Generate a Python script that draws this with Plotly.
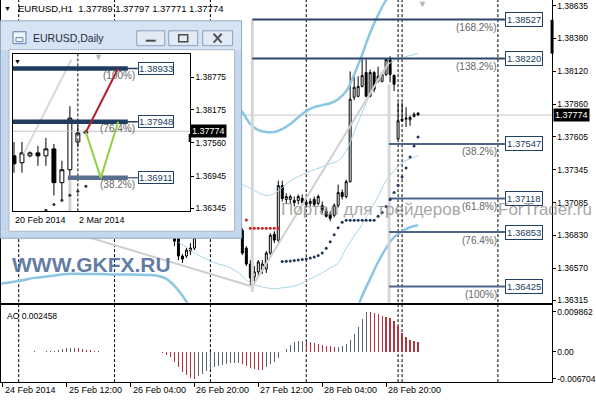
import plotly.graph_objects as go

W, H = 596, 400
FONT = "Liberation Sans, Arial, sans-serif"


def px(x):
    return x / W


def py(y):
    return 1 - y / H


# ---------------- EURUSD H1 candles (bar index 0 = 25 Feb 00:00) ----------------
H1_FIRST = 39
H1_OPEN = [1.36836, 1.36821, 1.36665, 1.36665, 1.36704, 1.36727, 1.36810, 1.36880, 1.36925, 1.36960,
           1.36945, 1.36970, 1.37000, 1.36985, 1.37010, 1.37035, 1.37020, 1.36868, 1.36727, 1.36602,
           1.36500, 1.36540, 1.36555, 1.36563, 1.36688, 1.36836, 1.36790, 1.37219, 1.37110, 1.37110,
           1.37102, 1.37102, 1.37118, 1.37071, 1.37079, 1.37110, 1.37079, 1.37063, 1.37016, 1.36993,
           1.36985, 1.37063, 1.37164, 1.37133, 1.37250, 1.37914, 1.37922, 1.38000, 1.38109, 1.37922,
           1.38109, 1.38039, 1.38039, 1.38094, 1.38211, 1.38086, 1.37586, 1.37729, 1.37742, 1.37737,
           1.37763, 1.37789]
H1_HIGH = [1.36868, 1.36844, 1.36680, 1.36727, 1.36766, 1.36829, 1.36905, 1.36950, 1.36990, 1.37010,
           1.36985, 1.37020, 1.37040, 1.37030, 1.37060, 1.37080, 1.37045, 1.36883, 1.36743, 1.36633,
           1.36586, 1.36633, 1.36633, 1.36704, 1.36844, 1.36860, 1.37258, 1.37258, 1.37157, 1.37149,
           1.37133, 1.37149, 1.37149, 1.37110, 1.37118, 1.37133, 1.37149, 1.37094, 1.37047, 1.37016,
           1.37079, 1.37227, 1.37188, 1.37266, 1.38117, 1.38080, 1.38080, 1.38211, 1.38211, 1.38133,
           1.38120, 1.38156, 1.38109, 1.38224, 1.38237, 1.38094, 1.37873, 1.37873, 1.37836, 1.37768,
           1.37795, 1.37797]
H1_LOW = [1.36743, 1.36633, 1.36610, 1.36649, 1.36672, 1.36711, 1.36805, 1.36860, 1.36900, 1.36930,
          1.36910, 1.36950, 1.36965, 1.36950, 1.36990, 1.36990, 1.36900, 1.36672, 1.36586, 1.36425,
          1.36461, 1.36508, 1.36524, 1.36532, 1.36672, 1.36766, 1.36774, 1.37094, 1.37079, 1.37079,
          1.37055, 1.37071, 1.37063, 1.37047, 1.37055, 1.37055, 1.37063, 1.37000, 1.36969, 1.36938,
          1.36969, 1.37047, 1.37110, 1.37118, 1.37243, 1.37891, 1.37914, 1.37992, 1.37914, 1.37914,
          1.37953, 1.38031, 1.38031, 1.38080, 1.38031, 1.37963, 1.37578, 1.37719, 1.37680, 1.37690,
          1.37756, 1.37771]
H1_CLOSE = [1.36782, 1.36665, 1.36641, 1.36711, 1.36727, 1.36810, 1.36880, 1.36925, 1.36960, 1.36945,
            1.36970, 1.37000, 1.36985, 1.37010, 1.37035, 1.37020, 1.36920, 1.36688, 1.36602, 1.36493,
            1.36540, 1.36618, 1.36602, 1.36688, 1.36829, 1.36790, 1.37219, 1.37118, 1.37133, 1.37133,
            1.37086, 1.37133, 1.37086, 1.37086, 1.37094, 1.37071, 1.37133, 1.37024, 1.36977, 1.36961,
            1.37063, 1.37164, 1.37133, 1.37250, 1.37899, 1.37992, 1.38000, 1.38086, 1.37922, 1.38109,
            1.37977, 1.38078, 1.38094, 1.38211, 1.38094, 1.38016, 1.37729, 1.37742, 1.37750, 1.37756,
            1.37781, 1.37774]
H1_BARS = list(range(H1_FIRST, H1_FIRST + len(H1_OPEN)))

# Parabolic SAR
SAR_DOWN_BARS = list(range(57, 66))
SAR_DOWN = [1.36948, 1.36883, 1.36883, 1.36883, 1.36883, 1.36883, 1.36883, 1.36883, 1.36883]
SAR_UP_BARS = list(range(66, 101))
SAR_UP = [1.36622, 1.36623, 1.36626, 1.36630, 1.36634, 1.36638, 1.36641, 1.36649, 1.36657, 1.36669,
          1.36688, 1.36727, 1.36778, 1.36833, 1.36887, 1.36930, 1.36946, 1.36946, 1.36946, 1.36946,
          1.36946, 1.36946, 1.36946, 1.36946, 1.36977, 1.37008, 1.37055, 1.37110, 1.37164, 1.37221,
          1.37287, 1.37357, 1.37444, 1.37531, 1.37602]

# Bollinger bands (sampled every other bar)
BB_WIDE_UP_BARS = [54, 56, 58, 60, 62, 64, 66, 68, 70, 72, 74, 76, 78, 80, 82, 84, 86, 88, 90, 92, 94]
BB_WIDE_UP = [1.37859, 1.37797, 1.37703, 1.37656, 1.37641, 1.37641, 1.37664, 1.37703, 1.37757, 1.37805,
              1.37836, 1.37852, 1.37867, 1.37899, 1.37961, 1.38094, 1.38250, 1.38422, 1.38562, 1.38680,
              1.38773]
BB_WIDE_LO_BARS = [-5, 0, 4, 8, 12, 16, 20, 24, 28, 32, 35, 37, 39, 41, 43, 46, 50, 56, 62, 68, 74, 78,
                   82, 84, 86, 88, 90, 92, 94, 96, 98, 100]
BB_WIDE_LO = [1.36446, 1.36469, 1.36493, 1.36508, 1.36524, 1.36524, 1.36524, 1.36520, 1.36520, 1.36516,
              1.36508, 1.36485, 1.36430, 1.36352, 1.36258, 1.36141, 1.36024, 1.35946, 1.35907, 1.35907,
              1.35946, 1.36024, 1.36141, 1.36196, 1.36352, 1.36485, 1.36618, 1.36727, 1.36813, 1.36860,
              1.36891, 1.36907]
BB_THIN_UP_BARS = [54, 56, 58, 60, 62, 64, 66, 68, 70, 72, 74, 76, 78, 80, 82, 84, 86, 88, 90, 92, 94,
                   96, 98, 100]
BB_THIN_UP = [1.37250, 1.37227, 1.37196, 1.37164, 1.37141, 1.37157, 1.37203, 1.37258, 1.37289, 1.37320,
              1.37344, 1.37367, 1.37391, 1.37414, 1.37492, 1.37641, 1.37797, 1.37938, 1.38063, 1.38156,
              1.38203, 1.38226, 1.38242, 1.38258]
BB_THIN_LO_BARS = [40, 42, 44, 46, 48, 50, 52, 54, 56, 58, 60, 62, 64, 66, 68, 70, 72, 74, 76, 78, 80,
                   82, 84, 86, 88, 90, 92, 94, 96, 98, 100]
BB_THIN_LO = [1.36774, 1.36735, 1.36688, 1.36657, 1.36625, 1.36602, 1.36586, 1.36555, 1.36508, 1.36454,
              1.36430, 1.36415, 1.36407, 1.36415, 1.36423, 1.36438, 1.36469, 1.36500, 1.36532, 1.36571,
              1.36610, 1.36727, 1.36821, 1.36914, 1.37024, 1.37133, 1.37258, 1.37336, 1.37399, 1.37430,
              1.37454]

# Fibonacci expansion objects
FIB_LEVELS = [1.38527, 1.38220, 1.37547, 1.37118, 1.36853, 1.36425]
FIB_PCT = ["(168.2%)", "(138.2%)", "(38.2%)", "(61.8%)", "(76.4%)", "(100%)"]
FIB_START = [58.5, 58.5, 92.75, 92.75, 92.75, 92.75]
FIB_END = 121.75
FIB_COLORS = ["#2c4668", "#2c4668", "#4d6586", "#4d6586", "#4d6586", "#4d6586"]
TREND_AB_BARS = [-4.44, 58.5]
TREND_AB = [1.37019, 1.36425]
TREND_BC_BARS = [58.5, 92.75]
TREND_BC = [1.36425, 1.38190]
VLINE_BARS = [58.5, 92.75]
VLINE_TOP = [1.38523, 1.38016]
VLINE_BOTTOM = [1.36381, 1.36290]

BID = 1.37774
SEPARATORS = [0, 24, 48, 72, 95, 96, 120]

MAIN_TICKS = [1.38635, 1.38380, 1.38120, 1.37860, 1.37605, 1.37345, 1.37085, 1.36830, 1.36570, 1.36315]

# Awesome Oscillator, bars -4 .. 100
AO_FIRST = -4
AO = [0.00003, 0.00005, 0.00002, -0.00002, 0.00003, 0.00004, 0.00005, 0.00004, 0.00006, 0.00005,
      0.00004, 0.00006, 0.00008, 0.00015, 0.00040, 0.00067, 0.00084, 0.00090, 0.00100, 0.00090,
      0.00067, 0.00050, 0.00034, 0.00018, 0.00010, 0.00005, 0.00003, 0.00002, 0.00001, -0.00002,
      0.00002, -0.00003, 0.00001, -0.00002, 0.00002, -0.00001, 0.00003, -0.00002, -0.00008, -0.00015,
      -0.00040, -0.00080, -0.00140, -0.00260, -0.00380, -0.00500, -0.00580, -0.00640, -0.006704, -0.00606,
      -0.00548, -0.00482, -0.00425, -0.00384, -0.00359, -0.00327, -0.00310, -0.00286, -0.00277, -0.00273,
      -0.00302, -0.00343, -0.00400, -0.00425, -0.00450, -0.00452, -0.00384, -0.00302, -0.00245, -0.00162,
      -0.00005, 0.00067, 0.00166, 0.00231, 0.00256, 0.00272, 0.00248, 0.00231, 0.00215, 0.00190,
      0.00174, 0.00149, 0.00133, 0.00117, 0.00125, 0.00149, 0.00190, 0.00297, 0.00437, 0.00625,
      0.00822, 0.009862, 0.00978, 0.00962, 0.00930, 0.00880, 0.00855, 0.00838, 0.00756, 0.00633,
      0.00468, 0.00362, 0.00280, 0.00263, 0.002458]
AO_BARS = list(range(AO_FIRST, AO_FIRST + len(AO)))
AO_TICKS = [0.009862, 0.0, -0.006704]
AO_TICK_TEXT = ["0.009862", "0.00", "-0.006704"]

DATE_BARS = [-4, 12, 28, 44, 60, 76, 92]
DATE_TEXT = ["24 Feb 2014", "25 Feb 12:00", "26 Feb 04:00", "26 Feb 20:00",
             "27 Feb 12:00", "28 Feb 04:00", "28 Feb 20:00"]

# ---------------- EURUSD Daily inset (bar 1 = 20 Feb) ----------------
D_BARS = [1, 2, 3, 4, 5, 6, 7, 8, 9, 10]
D_OPEN = [1.37318, 1.37190, 1.37318, 1.37373, 1.37318, 1.37447, 1.36822, 1.37061, 1.37575, 1.37741]
D_HIGH = [1.37575, 1.37575, 1.37400, 1.37502, 1.37649, 1.37539, 1.37226, 1.38237, 1.37888, 1.37796]
D_LOW = [1.37006, 1.37006, 1.37290, 1.37135, 1.37135, 1.36584, 1.36473, 1.36896, 1.37484, 1.37722]
D_CLOSE = [1.37171, 1.37373, 1.37373, 1.37318, 1.37447, 1.36822, 1.37061, 1.38016, 1.37741, 1.37774]
D_SAR_BARS = [5, 6, 7, 8, 9, 10]
D_SAR = [1.36313, 1.36418, 1.36497, 1.36589, 1.36662, 1.36754]
D_TICKS = [1.38775, 1.38175, 1.37560, 1.36945, 1.36345]
D_FIB_LEVELS = [1.38933, 1.37948, 1.36911]
D_FIB_PCT = ["(100%)", "(76.4%)", "(38.2%)"]
D_FIB_START = [0.875, 0.875, 7.75]
D_FIB_END = 15.25
D_FIB_LABEL = 16.5
D_FIB_COLORS = ["#1f3b5e", "#1f3b5e", "#5a6e8e"]
D_UP_BARS = [10, 14.04]
D_UP = [1.37754, 1.38933]
D_ZIG_BARS = [10, 11.875, 14.04]
D_ZIG = [1.37754, 1.36911, 1.37948]
D_TREND_BARS = [2.2, 8.2]
D_TREND = [1.37355, 1.39100]
D_VLINE_BAR = 8
D_VLINE = [1.36896, 1.36290]
D_SEPARATOR = 9
D_DATE_BARS = [1, 9]
D_DATE_TEXT = ["20 Feb 2014", "2 Mar 2014"]

# ---------------- geometry ----------------
X_RANGE = [-4.4375, 133.4375]
X_DOM = [px(1), px(552.5)]
MAIN_Y_RANGE = [1.362975, 1.386795]
AO_Y_RANGE = [-0.007532, 0.011668]
INSET_X_RANGE = [0.875, 23.0]
INSET_Y_RANGE = [1.36290, 1.39210]


def line(xs, ys, color, width, xa="x", ya="y", dash=None, shape="linear"):
    return go.Scatter(x=xs, y=ys, mode="lines", xaxis=xa, yaxis=ya, hoverinfo="skip",
                      showlegend=False, line=dict(color=color, width=width, dash=dash, shape=shape))


fig = go.Figure()

# --- main chart ---
fig.add_trace(line(BB_WIDE_UP_BARS, BB_WIDE_UP, "#8cc6e3", 2.5, shape="spline"))
fig.add_trace(line(BB_WIDE_LO_BARS, BB_WIDE_LO, "#8cc6e3", 2.5, shape="spline"))
fig.add_trace(line(BB_THIN_UP_BARS, BB_THIN_UP, "#a8d5ea", 1, shape="spline"))
fig.add_trace(line(BB_THIN_LO_BARS, BB_THIN_LO, "#a8d5ea", 1, shape="spline"))
fig.add_trace(line(TREND_AB_BARS, TREND_AB, "#cfcfcf", 2))
fig.add_trace(line(TREND_BC_BARS, TREND_BC, "#cfcfcf", 2))
for b, t, bo in zip(VLINE_BARS, VLINE_TOP, VLINE_BOTTOM):
    fig.add_trace(line([b, b], [t, bo], "#d6d6d6", 3))
for lvl, s, c in zip(FIB_LEVELS, FIB_START, FIB_COLORS):
    fig.add_trace(line([s, FIB_END], [lvl, lvl], c, 2))

fig.add_trace(go.Candlestick(
    x=H1_BARS, open=H1_OPEN, high=H1_HIGH, low=H1_LOW, close=H1_CLOSE,
    xaxis="x", yaxis="y", whiskerwidth=0, hoverinfo="skip", showlegend=False,
    increasing=dict(line=dict(color="black", width=1), fillcolor="white"),
    decreasing=dict(line=dict(color="black", width=1), fillcolor="black")))

fig.add_trace(go.Scatter(x=SAR_DOWN_BARS, y=SAR_DOWN, mode="markers", xaxis="x", yaxis="y",
                         marker=dict(color="#d42020", size=3), hoverinfo="skip", showlegend=False))
fig.add_trace(go.Scatter(x=SAR_UP_BARS, y=SAR_UP, mode="markers", xaxis="x", yaxis="y",
                         marker=dict(color="#1f3656", size=3), hoverinfo="skip", showlegend=False))

# --- AO ---
ao_colors = []
for k, v in enumerate(AO):
    if k == 0 or v > AO[k - 1]:
        ao_colors.append("#5b6472")
    else:
        ao_colors.append("#b3343f")
fig.add_trace(go.Bar(x=AO_BARS, y=AO, xaxis="x2", yaxis="y2", width=0.3,
                     marker=dict(color=ao_colors, line=dict(width=0)),
                     hoverinfo="skip", showlegend=False))

# --- window content background (cover subplot) ---
fig.add_trace(go.Scatter(x=[0.5], y=[0.5], mode="markers", xaxis="x3", yaxis="y3",
                         marker=dict(opacity=0), hoverinfo="skip", showlegend=False))

# --- daily inset ---
fig.add_trace(line(INSET_X_RANGE, [BID, BID], "#c4c4c4", 1, xa="x4", ya="y4"))
fig.add_trace(line(D_TREND_BARS, D_TREND, "#d8d8d8", 2, xa="x4", ya="y4"))
fig.add_trace(line([D_VLINE_BAR, D_VLINE_BAR], D_VLINE, "#d2d2d2", 3, xa="x4", ya="y4"))
fig.add_trace(line([D_SEPARATOR, D_SEPARATOR], INSET_Y_RANGE, "black", 1, xa="x4", ya="y4",
                   dash="3px,2px"))
for lvl, s, c in zip(D_FIB_LEVELS, D_FIB_START, D_FIB_COLORS):
    fig.add_trace(line([s, D_FIB_LABEL], [lvl, lvl], c, 1.5, xa="x4", ya="y4"))
    fig.add_trace(line([s, D_FIB_END], [lvl, lvl], c, 4.5, xa="x4", ya="y4"))
fig.add_trace(line(D_UP_BARS, D_UP, "#b0202a", 2, xa="x4", ya="y4"))
fig.add_trace(line(D_ZIG_BARS, D_ZIG, "#8fd140", 2, xa="x4", ya="y4"))
fig.add_trace(go.Candlestick(
    x=D_BARS, open=D_OPEN, high=D_HIGH, low=D_LOW, close=D_CLOSE,
    xaxis="x4", yaxis="y4", whiskerwidth=0, hoverinfo="skip", showlegend=False,
    increasing=dict(line=dict(color="black", width=1), fillcolor="white"),
    decreasing=dict(line=dict(color="black", width=1), fillcolor="black")))
fig.add_trace(go.Scatter(x=D_SAR_BARS, y=D_SAR, mode="markers", xaxis="x4", yaxis="y4",
                         marker=dict(color="#333333", size=3), hoverinfo="skip", showlegend=False))

# ---------------- shapes ----------------
shapes = []
for b in SEPARATORS:
    shapes.append(dict(type="line", xref="x", yref="paper", x0=b, x1=b, y0=py(385), y1=1,
                       line=dict(color="black", width=1, dash="3px,2px"), layer="below"))
shapes.append(dict(type="line", xref="paper", yref="y", x0=X_DOM[0], x1=X_DOM[1], y0=BID, y1=BID,
                   line=dict(color="#c4c4c4", width=1), layer="below"))
shapes.append(dict(type="rect", xref="paper", yref="paper", x0=px(551.5), x1=px(554.5),
                   y0=py(54), y1=py(20), fillcolor="black", line=dict(width=0), layer="above"))

FRAME = "#c5d7ec"
TITLE = "#d6e3f2"
EDGE = "#8ea9c9"


def rect(x0, y0, x1, y1, fill, lc=None, lw=0):
    return dict(type="rect", xref="paper", yref="paper", x0=px(x0), x1=px(x1), y0=py(y1), y1=py(y0),
                fillcolor=fill, line=dict(color=lc or fill, width=lw), layer="above")


shapes.append(rect(0, 21, 242, 50, TITLE))
shapes.append(rect(0, 50, 9, 233, FRAME))
shapes.append(rect(235, 50, 242, 233, FRAME))
shapes.append(rect(0, 233, 242, 240, FRAME))
shapes.append(dict(type="rect", xref="paper", yref="paper", x0=px(0.5), x1=px(242), y0=py(240),
                   y1=py(21), line=dict(color=EDGE, width=1), layer="above"))
shapes.append(dict(type="rect", xref="paper", yref="paper", x0=px(9), x1=px(235), y0=py(233),
                   y1=py(50), line=dict(color="#a9b9cc", width=1), layer="above"))
shapes.append(rect(13, 32, 26, 44, "#eef4fb", "#5b7fae", 1))
shapes.append(rect(16, 38, 23, 42, "#ffffff", "#5b7fae", 1))
for bx0, bx1 in [(137, 165), (169, 198), (203, 233)]:
    shapes.append(rect(bx0, 31, bx1, 46, "#e2eaf5", "#8aa2c2", 1))
shapes.append(rect(146, 40, 156, 42, "#4a4a4a"))
shapes.append(rect(179, 35, 188, 42, "rgba(0,0,0,0)", "#4a4a4a", 1.5))
shapes.append(dict(type="line", xref="paper", yref="paper", x0=px(214), x1=px(222), y0=py(34),
                   y1=py(43), line=dict(color="#555555", width=2), layer="above"))
shapes.append(dict(type="line", xref="paper", yref="paper", x0=px(214), x1=px(222), y0=py(43),
                   y1=py(34), line=dict(color="#555555", width=2), layer="above"))
shapes.append(rect(189, 135, 191.5, 143, "black"))

# ---------------- annotations ----------------
ann = []


def text(x, y, t, size=9, color="black", xanchor="left", xref="paper", yref="paper",
         yshift=0, xshift=0, **kw):
    ann.append(dict(x=x, y=y, xref=xref, yref=yref, text=t, showarrow=False, xanchor=xanchor,
                    yanchor="middle", yshift=yshift, xshift=xshift,
                    font=dict(family=FONT, size=size, color=color), **kw))


text(px(2), py(9), "▼", size=7)
text(px(16), py(9), "EURUSD,H1  1.37789 1.37797 1.37771 1.37774", size=9.5)
text(px(423), py(4), "▼", size=9, color="#b4b4b4", xanchor="center")

for lvl, pct in zip(FIB_LEVELS, FIB_PCT):
    text(FIB_END, lvl, "%.5f" % lvl, size=9.5, color="#22405f", xref="x", yref="y",
         bordercolor="#22405f", borderwidth=1, borderpad=1, bgcolor="white")
    text(FIB_END - 1.6, lvl, pct, size=10, color="#666666", xanchor="right", xref="x", yref="y",
         yshift=-8)

text(px(553.5), BID, "%.5f" % BID, size=9, color="white", yref="y", bgcolor="black", borderpad=1)

text(px(372), py(211), "Портал для трейдеров", size=17, color="rgba(135,135,135,0.75)",
     xanchor="center")
text(px(497), py(211), "ForTrader.ru", size=17, color="rgba(135,135,135,0.75)")
ann.append(dict(x=px(92), y=py(266), xref="paper", yref="paper", text="<b>WWW.GKFX.RU</b>",
                showarrow=False, xanchor="center", yanchor="middle",
                font=dict(family=FONT, size=21, color="rgba(70,100,150,0.85)")))

text(px(5), py(318), "AO 0.002458", size=8.5)
for b, t in zip(DATE_BARS, DATE_TEXT):
    text(b, py(393), t, size=9, xref="x2")

text(px(31), py(38), "EURUSD,Daily", size=10.5, color="#1f2d3d")
text(px(18), py(62), "▼", size=7, xanchor="center")
text(px(99), py(57), "▼", size=9, color="#b4b4b4", xanchor="center")
for lvl, pct in zip(D_FIB_LEVELS, D_FIB_PCT):
    text(D_FIB_LABEL, lvl, "%.5f" % lvl, size=9.5, color="#22405f", xref="x4", yref="y4",
         bordercolor="#22405f", borderwidth=1, borderpad=0, bgcolor="white")
    text(D_FIB_LABEL - 0.15, lvl, pct, size=10, color="#666666", xanchor="right", xref="x4",
         yref="y4", yshift=-7)
text(px(190), BID, "%.5f" % BID, size=9, color="white", yref="y4", bgcolor="black", borderpad=1)
for b, t in zip(D_DATE_BARS, D_DATE_TEXT):
    text(b, py(222), t, size=9, xref="x4", xshift=-1)

axis_font = dict(family=FONT, size=8.5, color="black")
common_x = dict(showgrid=False, zeroline=False)
fig.update_layout(
    width=W, height=H, margin=dict(l=0, r=0, t=0, b=0),
    paper_bgcolor="white", plot_bgcolor="white", showlegend=False,
    bargap=0, boxgap=0.3,
    xaxis=dict(domain=X_DOM, range=X_RANGE, anchor="y", showline=True, linecolor="black",
               linewidth=1, ticks="", showticklabels=False, rangeslider=dict(visible=False),
               **common_x),
    yaxis=dict(domain=[py(305), 1], range=MAIN_Y_RANGE, anchor="x", side="right", showline=True,
               mirror=True, linecolor="black", linewidth=1, ticks="outside", ticklen=3,
               tickcolor="black", tickvals=MAIN_TICKS, ticktext=["%.5f" % v for v in MAIN_TICKS],
               tickfont=axis_font, showgrid=False, zeroline=False),
    xaxis2=dict(domain=X_DOM, range=X_RANGE, anchor="y2", showline=True, mirror=True,
                linecolor="black", linewidth=1, ticks="outside", ticklen=4, tickcolor="black",
                tickvals=DATE_BARS, showticklabels=False, **common_x),
    yaxis2=dict(domain=[py(385), py(307)], range=AO_Y_RANGE, anchor="x2", side="right",
                showline=True, mirror=True, linecolor="black", linewidth=1, ticks="outside",
                ticklen=3, tickcolor="black", tickvals=AO_TICKS, ticktext=AO_TICK_TEXT,
                tickfont=axis_font, showgrid=False, zeroline=False),
    xaxis3=dict(domain=[px(9), px(235)], range=[0, 1], anchor="y3", visible=False, **common_x),
    yaxis3=dict(domain=[py(233), py(50)], range=[0, 1], anchor="x3", visible=False,
                showgrid=False, zeroline=False),
    xaxis4=dict(domain=[px(13), px(190)], range=INSET_X_RANGE, anchor="y4", showline=True,
                mirror=True, linecolor="black", linewidth=1, ticks="", showticklabels=False,
                rangeslider=dict(visible=False), **common_x),
    yaxis4=dict(domain=[py(213), py(54)], range=INSET_Y_RANGE, anchor="x4", side="right",
                showline=True, mirror=True, linecolor="black", linewidth=1, ticks="outside",
                ticklen=3, tickcolor="black", tickvals=D_TICKS,
                ticktext=["%.5f" % v for v in D_TICKS], tickfont=axis_font,
                showgrid=False, zeroline=False),
    shapes=shapes, annotations=ann,
)

fig.write_html("out.html", config={"displayModeBar": False, "staticPlot": True},
               post_script="document.body.style.margin='0px';")
